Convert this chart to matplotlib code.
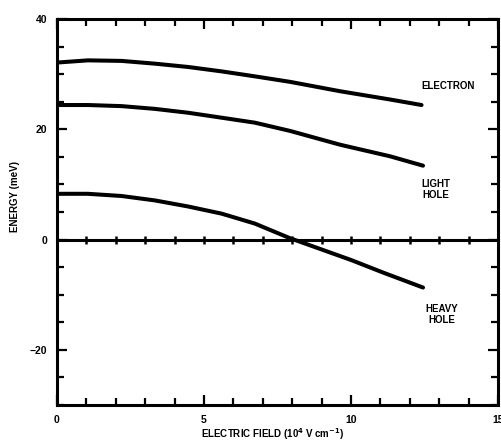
import matplotlib
matplotlib.use("Agg")
import matplotlib.pyplot as plt
from matplotlib.ticker import MultipleLocator, FixedLocator, NullFormatter

plt.rcParams["font.family"] = ["Liberation Sans", "DejaVu Sans"]
plt.rcParams["font.weight"] = "bold"
plt.rcParams["mathtext.default"] = "bf"

# values (field in 10^4 V/cm, energy in meV)
electron_x = [0.0, 1.05, 2.2, 3.33, 4.46, 5.6, 6.73, 7.93, 9.63, 11.33, 12.4]
electron_y = [32.1, 32.5, 32.4, 31.9, 31.3, 30.5, 29.6, 28.6, 26.9, 25.4, 24.4]

light_x = [0.0, 1.05, 2.2, 3.33, 4.46, 5.6, 6.73, 7.93, 9.63, 11.33, 12.45]
light_y = [24.4, 24.4, 24.2, 23.7, 23.0, 22.1, 21.2, 19.7, 17.2, 15.1, 13.4]

heavy_x = [0.0, 1.05, 2.2, 3.33, 4.46, 5.6, 6.73, 7.9, 10.0, 11.1, 12.45]
heavy_y = [8.3, 8.3, 7.9, 7.1, 6.0, 4.7, 2.9, 0.3, -3.7, -6.0, -8.7]

zero_ticks = list(range(0, 16))
curve_labels = ["ELECTRON", "LIGHT\nHOLE", "HEAVY\nHOLE"]
label_pos = [(13.3, 27.8), (12.9, 9.1), (13.1, -13.6)]

fig = plt.figure(figsize=(5.01, 4.45), dpi=100)
ax = fig.add_axes([57 / 501, 1 - 405 / 445, 441 / 501, 386 / 445])

lw = 2.9
for xs, ys in [(electron_x, electron_y), (light_x, light_y), (heavy_x, heavy_y)]:
    ax.plot(xs, ys, color="black", lw=lw, solid_capstyle="round",
            solid_joinstyle="round")

# zero line with small tick marks at each unit
ax.plot(zero_ticks, [0] * len(zero_ticks), color="black", lw=2.2,
        marker="|", markersize=6, markeredgewidth=1.8, clip_on=False)

for txt, (lx, ly) in zip(curve_labels, label_pos):
    ax.text(lx, ly, txt, ha="center", va="center", fontsize=7,
            fontweight="bold", linespacing=1.1)

ax.set_xlim(0, 15)
ax.set_ylim(-30, 40)

ax.xaxis.set_major_locator(FixedLocator([0, 5, 10, 15]))
ax.xaxis.set_minor_locator(MultipleLocator(1))
ax.yaxis.set_major_locator(FixedLocator([-20, 0, 20, 40]))
ax.yaxis.set_minor_locator(MultipleLocator(5))
ax.xaxis.set_minor_formatter(NullFormatter())
ax.yaxis.set_minor_formatter(NullFormatter())

ax.tick_params(which="both", direction="in", top=True, right=True,
               width=1.6, labelsize=7.5)
ax.tick_params(axis="x", pad=7)
ax.tick_params(axis="y", pad=7)
ax.tick_params(which="major", length=7)
ax.tick_params(which="minor", length=5)

for s in ax.spines.values():
    s.set_linewidth(2.2)

ax.set_xlabel("ELECTRIC FIELD (10$^4$ V cm$^{-1}$)", fontsize=7,
              fontweight="bold")
ax.xaxis.set_label_coords(0.49, -0.055)
ax.set_ylabel("ENERGY (meV)", fontsize=7, fontweight="bold")
ax.yaxis.set_label_coords(-0.085, 0.54)

fig.savefig("out.png", dpi=100)
